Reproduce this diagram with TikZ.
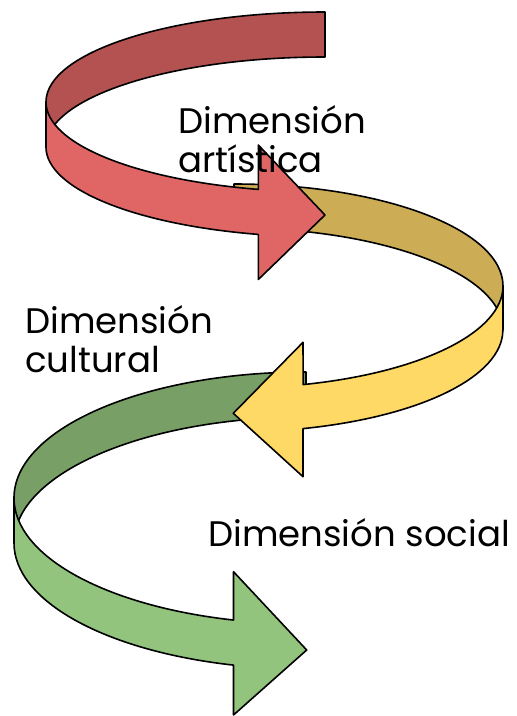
\documentclass[tikz,border=0pt]{standalone}
\usepackage{fontspec}
\setmainfont{Poppins}
\usetikzlibrary{positioning}
\definecolor{redbk}{HTML}{B45252}
\definecolor{redfr}{HTML}{E06666}
\definecolor{goldbk}{HTML}{CCAD55}
\definecolor{goldfr}{HTML}{FFD966}
\definecolor{greenbk}{HTML}{789F65}
\definecolor{greenfr}{HTML}{93C47D}
\tikzset{
  band/.style={draw=black, line width=1.6pt, line join=round},
  redback/.style={band, fill=redbk},
  redfront/.style={band, fill=redfr},
  goldback/.style={band, fill=goldbk},
  goldfront/.style={band, fill=goldfr},
  greenback/.style={band, fill=greenbk},
  greenfront/.style={band, fill=greenfr},
  lbl/.style={font=\fontsize{35.5}{39}\selectfont, align=left, inner sep=0pt, text=black}
}

\begin{document}
\begin{tikzpicture}[x=1pt,y=-1pt]
  \useasboundingbox (0,0) rectangle (517,716);

  % green spiral (bottom)
  \draw[greenback] (306,372) arc[start angle=-90, end angle=-180, x radius=292, y radius=126]
    -- (14,543) arc[start angle=-180, end angle=-90, x radius=292, y radius=126] -- cycle;
  \draw[greenfront] (14,498) arc[start angle=180, end angle=104.38, x radius=292, y radius=126]
    -- (233.5,571.7) -- (306.7,650) -- (233.5,715) -- (233.5,665.1)
    arc[start angle=104.38, end angle=180, x radius=292, y radius=126] -- cycle;

  % gold spiral (middle)
  \draw[goldback] (234,184) arc[start angle=-90, end angle=0, x radius=269, y radius=102]
    -- (503,330) arc[start angle=0, end angle=-90, x radius=269, y radius=102] -- cycle;
  \draw[goldfront] (503,286) arc[start angle=0, end angle=75.1, x radius=269, y radius=102]
    -- (303,342.3) -- (233.3,413.3) -- (303,476.7) -- (303,428.6)
    arc[start angle=75.1, end angle=0, x radius=269, y radius=102] -- cycle;

  % red spiral (top)
  \draw[redback] (325,12) arc[start angle=-90, end angle=-180, x radius=279, y radius=90]
    -- (46,147) arc[start angle=-180, end angle=-90, x radius=279, y radius=90] -- cycle;
  \draw[redfront] (46,102) arc[start angle=180, end angle=103.83, x radius=279, y radius=90]
    -- (258.3,145) -- (325,215) -- (258.3,279.5) -- (258.3,234.4)
    arc[start angle=103.83, end angle=180, x radius=279, y radius=90] -- cycle;

  % labels (base = last line)
  \node[lbl, anchor=base west] (art) at (178,172) {Dimensión\\artística};
  \node[lbl, anchor=base west] (cult) at (25,372) {Dimensión\\cultural};
  \node[lbl, anchor=base west] (soc) at (208,546) {Dimensión social};
\end{tikzpicture}
\end{document}
